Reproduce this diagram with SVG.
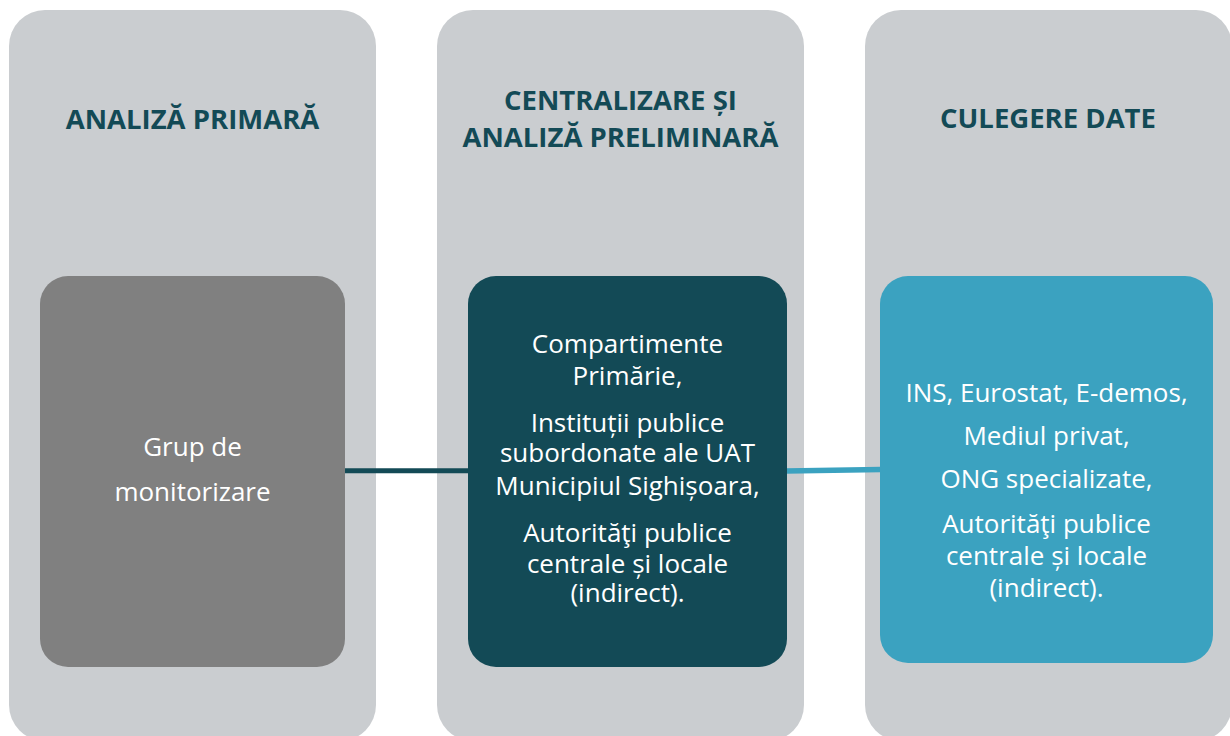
<svg xmlns="http://www.w3.org/2000/svg" width="1230" height="736" viewBox="0 0 1230 736">
<style>
.col{fill:#cacdd0}
.title{font-family:"Open Sans","Liberation Sans",sans-serif;font-weight:700;font-size:27.5px;fill:#134a56;text-anchor:middle}
.body{font-family:"Open Sans","Liberation Sans",sans-serif;font-size:26px;fill:#ffffff;text-anchor:middle}
</style>
<rect width="1230" height="736" fill="#ffffff"/>
<g id="col1"><rect class="col" x="9" y="10" width="367" height="731" rx="36" ry="36"/>
<text class="title" x="192.5" y="129">ANALIZĂ PRIMARĂ</text></g>
<g id="col2"><rect class="col" x="437" y="10" width="367" height="731" rx="36" ry="36"/>
<text class="title" x="620.5" y="110">CENTRALIZARE ȘI</text>
<text class="title" x="620.5" y="147">ANALIZĂ PRELIMINARĂ</text></g>
<g id="col3"><rect class="col" x="865" y="10" width="367" height="731" rx="36" ry="36"/>
<text class="title" x="1048" y="128">CULEGERE DATE</text></g>
<g id="connectors">
<line x1="344" y1="470.8" x2="469" y2="470.8" stroke="#134a56" stroke-width="5"/>
<line x1="786" y1="471" x2="881" y2="469.5" stroke="#3ba2c0" stroke-width="5.5"/>
</g>
<g id="node-grup"><rect x="40" y="276" width="305" height="391" rx="28" ry="28" fill="#808080"/>
<text class="body" x="192.5" y="456">Grup de</text>
<text class="body" x="192.5" y="501">monitorizare</text></g>
<g id="node-compartimente"><rect x="468" y="276" width="319" height="391" rx="28" ry="28" fill="#134a56"/>
<text class="body" x="627.5" y="353">Compartimente</text>
<text class="body" x="627.5" y="385">Primărie,</text>
<text class="body" x="627.5" y="432">Instituții publice</text>
<text class="body" x="627.5" y="462">subordonate ale UAT</text>
<text class="body" x="627.5" y="495">Municipiul Sighișoara,</text>
<text class="body" x="627.5" y="542">Autorităţi publice</text>
<text class="body" x="627.5" y="573">centrale și locale</text>
<text class="body" x="627.5" y="602">(indirect).</text></g>
<g id="node-ins"><rect x="880" y="276" width="333" height="387" rx="28" ry="28" fill="#3ba2c0"/>
<text class="body" x="1046.5" y="402">INS, Eurostat, E-demos,</text>
<text class="body" x="1046.5" y="445">Mediul privat,</text>
<text class="body" x="1046.5" y="488">ONG specializate,</text>
<text class="body" x="1046.5" y="533">Autorităţi publice</text>
<text class="body" x="1046.5" y="565">centrale și locale</text>
<text class="body" x="1046.5" y="597">(indirect).</text></g>
</svg>
